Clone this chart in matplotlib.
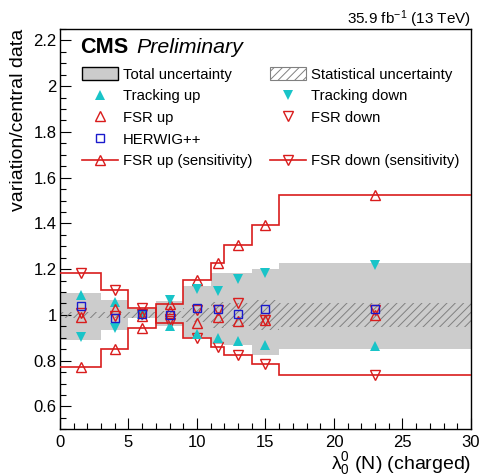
import matplotlib
matplotlib.use("Agg")
import matplotlib.pyplot as plt
from matplotlib import ticker
from matplotlib.patches import Patch
from matplotlib.lines import Line2D

# binning of lambda_0^0 (N) (charged)
bin_edges = [0, 3, 5, 7, 9, 11, 12, 14, 16, 30]
bin_centers = [1.5, 4, 6, 8, 10, 11.5, 13, 15, 23]

# uncertainty bands (ratio to central data)
total_hi = [1.098, 1.067, 1.028, 1.063, 1.128, 1.185, 1.183, 1.201, 1.226]
total_lo = [0.891, 0.933, 0.986, 0.951, 0.904, 0.872, 0.867, 0.825, 0.849]
stat_err = [0.012, 0.012, 0.012, 0.015, 0.030, 0.055, 0.050, 0.065, 0.051]

# variations
tracking_up = [1.085, 1.056, 1.003, 0.951, 0.918, 0.897, 0.888, 0.869, 0.866]
tracking_down = [0.904, 0.944, 0.997, 1.065, 1.112, 1.104, 1.156, 1.182, 1.217]
fsr_up = [0.990, 1.025, 0.995, 1.017, 0.966, 0.990, 0.973, 0.977, 0.998]
fsr_down = [1.010, 0.995, 1.005, 0.982, 1.020, 1.020, 1.053, 0.977, 1.020]
herwig = [1.039, 0.985, 1.005, 1.000, 1.031, 1.028, 1.005, 1.027, 1.028]
fsr_up_sens = [0.771, 0.849, 0.942, 1.046, 1.151, 1.229, 1.305, 1.394, 1.525]
fsr_down_sens = [1.182, 1.109, 1.031, 0.963, 0.900, 0.861, 0.827, 0.787, 0.739]

GRAY = "#cccccc"
HATCH = "#808080"
CYAN = "#19c4c8"
RED = "#d91c1c"
BLUE = "#1a1acc"

plt.rcParams["font.family"] = ["Liberation Sans", "DejaVu Sans"]
plt.rcParams["mathtext.fontset"] = "custom"
plt.rcParams["mathtext.rm"] = "Liberation Sans"
plt.rcParams["mathtext.it"] = "Liberation Sans:italic"
plt.rcParams["hatch.linewidth"] = 0.7

fig = plt.figure(figsize=(4.83, 4.76), dpi=100)
ax = fig.add_axes([0.1242, 0.0981, 0.8509, 0.841])

stat_hi = [1 + e for e in stat_err]
stat_lo = [1 - e for e in stat_err]

ax.stairs(total_hi, bin_edges, baseline=total_lo, fill=True,
          color=GRAY, linewidth=0, zorder=1)
ax.stairs(stat_hi, bin_edges, baseline=stat_lo, fill=True,
          facecolor="none", edgecolor=HATCH, hatch="////",
          linewidth=0, zorder=2)

ax.stairs(fsr_up_sens, bin_edges, baseline=None, color=RED,
          linewidth=1.2, zorder=3)
ax.stairs(fsr_down_sens, bin_edges, baseline=None, color=RED,
          linewidth=1.2, zorder=3)

tri_kw = dict(ls="none", ms=6.5, mew=1.0, zorder=4)
ax.plot(bin_centers, fsr_up_sens, marker="^", mfc="none", mec=RED, **tri_kw)
ax.plot(bin_centers, fsr_down_sens, marker="v", mfc="none", mec=RED, **tri_kw)
ax.plot(bin_centers, tracking_up, marker="^", color=CYAN, ls="none",
        ms=6.5, mew=0, zorder=4)
ax.plot(bin_centers, tracking_down, marker="v", color=CYAN, ls="none",
        ms=6.5, mew=0, zorder=4)
ax.plot(bin_centers, fsr_up, marker="^", mfc="none", mec=RED, **tri_kw)
ax.plot(bin_centers, fsr_down, marker="v", mfc="none", mec=RED, **tri_kw)
ax.plot(bin_centers, herwig, marker="s", mfc="none", mec=BLUE, ls="none",
        ms=6, mew=1.0, zorder=5)

ax.set_xlim(0, 30)
ax.set_ylim(0.5, 2.25)
ax.xaxis.set_major_locator(ticker.MultipleLocator(5))
ax.xaxis.set_minor_locator(ticker.MultipleLocator(1))
ax.yaxis.set_major_locator(ticker.MultipleLocator(0.2))
ax.yaxis.set_minor_locator(ticker.MultipleLocator(0.05))
ax.yaxis.set_major_formatter(ticker.FuncFormatter(lambda v, p: f"{v:g}"))
ax.tick_params(which="both", direction="in", top=False, right=False,
               width=0.8, labelsize=12)
ax.tick_params(which="major", length=8)
ax.tick_params(which="minor", length=4.3)
ax.tick_params(axis="x", pad=4)
ax.tick_params(axis="y", pad=2.5)
for sp in ax.spines.values():
    sp.set_linewidth(1.0)

ax.set_ylabel("variation/central data", fontsize=14, loc="top")
ax.yaxis.set_label_coords(-0.080, 1.0)
ax.set_xlabel(r"λ$_0^0$ (N) (charged)", fontsize=14, loc="right")
ax.xaxis.set_label_coords(1.0, -0.052)

ax.text(0.0487, 0.940, "CMS", transform=ax.transAxes, fontsize=15.6,
        fontweight="bold", va="baseline")
ax.text(0.1849, 0.940, "Preliminary", transform=ax.transAxes,
        fontsize=15.4, style="italic", va="baseline")
fig.text(0.975, 0.9496, r"35.9 fb$^{-1}$ (13 TeV)", fontsize=11,
         ha="right", va="baseline")

h_total = Patch(facecolor=GRAY, edgecolor="black", linewidth=1.0)
h_stat = Patch(facecolor="white", edgecolor=HATCH, hatch="////",
               linewidth=0.8)
h_tu = Line2D([], [], ls="none", marker="^", color=CYAN, ms=6.5, mew=0)
h_td = Line2D([], [], ls="none", marker="v", color=CYAN, ms=6.5, mew=0)
h_fu = Line2D([], [], ls="none", marker="^", mfc="none", mec=RED,
              ms=6.5, mew=1.0)
h_fd = Line2D([], [], ls="none", marker="v", mfc="none", mec=RED,
              ms=6.5, mew=1.0)
h_hw = Line2D([], [], ls="none", marker="s", mfc="none", mec=BLUE,
              ms=6, mew=1.0)
h_blank = Line2D([], [], ls="none")
h_su = Line2D([], [], color=RED, lw=1.2, marker="^", mfc="none",
              mec=RED, ms=6.5, mew=1.0)
h_sd = Line2D([], [], color=RED, lw=1.2, marker="v", mfc="none",
              mec=RED, ms=6.5, mew=1.0)

handles = [h_total, h_tu, h_fu, h_hw, h_su,
           h_stat, h_td, h_fd, h_blank, h_sd]
labels = ["Total uncertainty", "Tracking up", "FSR up", "HERWIG++",
          "FSR up (sensitivity)",
          "Statistical uncertainty", "Tracking down", "FSR down", "",
          "FSR down (sensitivity)"]
ax.legend(handles, labels, ncol=2, loc="upper left",
          bbox_to_anchor=(0.0535, 0.905), frameon=False, fontsize=10.7,
          borderpad=0, borderaxespad=0, handlelength=2.42,
          handleheight=0.99, handletextpad=0.34, labelspacing=0.47,
          columnspacing=1.2)

fig.savefig("out.png", dpi=100)
